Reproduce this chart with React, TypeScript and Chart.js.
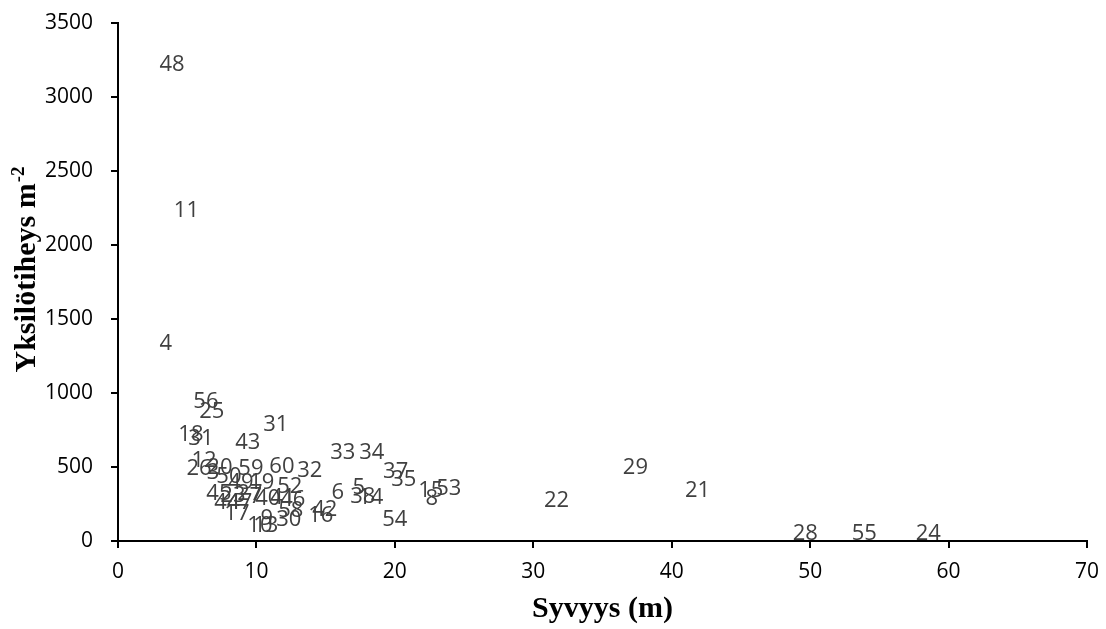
import { useEffect, useRef } from "react";
import { Chart, registerables } from "chart.js";

Chart.register(...registerables);

// Sampling sites: site number, depth (m) and individual density (ind. m^-2)
const siteIds = [
  "48", "11", "4", "56", "25", "18", "31", "43", "31", "33",
  "34", "37", "35", "29", "21", "22", "15", "8", "53", "54",
  "28", "55", "24", "6", "5", "38", "14", "16", "42", "12",
  "26", "3", "20", "59", "60", "32", "50", "49", "19", "52",
  "45", "23", "27", "7", "40", "41", "46", "44", "47", "17",
  "58", "9", "30", "10", "13",
];

const depthM = [
  3.9, 4.94, 3.46, 6.35, 6.78, 5.27, 5.99, 9.38, 11.4, 16.24,
  18.33, 20.06, 20.64, 37.38, 41.86, 31.68, 22.59, 22.66, 23.89, 19.99,
  49.65, 53.91, 58.53, 15.88, 17.39, 17.68, 18.26, 14.65, 14.94, 6.21,
  5.85, 6.86, 7.36, 9.6, 11.84, 13.86, 8.01, 8.88, 10.39, 12.41,
  7.29, 8.3, 9.53, 9.96, 10.82, 11.91, 12.63, 7.87, 8.8, 8.59,
  12.48, 10.75, 12.34, 10.25, 10.68,
];

const densityPerM2 = [
  3230, 2240, 1345, 953, 885, 730, 703, 676, 797, 608,
  608, 480, 426, 507, 351, 284, 351, 297, 365, 155,
  61, 61, 61, 338, 372, 311, 304, 182, 223, 554,
  500, 473, 507, 500, 514, 486, 446, 405, 405, 378,
  331, 318, 331, 311, 297, 304, 291, 270, 270, 196,
  216, 162, 155, 115, 115,
];

const xAxisTitle = "Syvyys (m)";
const yAxisTitleMain = "Yksilötiheys m";
const yAxisTitleSup = "-2";

const X_MIN = 0;
const X_MAX = 70;
const X_STEP = 10;
const Y_MIN = 0;
const Y_MAX = 3500;
const Y_STEP = 500;

const LABEL_FONT = '22px "Open Sans"';
const TICK_FONT_FAMILY = '"Open Sans"';
const TITLE_FAMILY = '"Liberation Serif"';

// Site numbers are drawn in place of point markers
const siteLabelPlugin = {
  id: "siteLabels",
  afterDatasetsDraw(chart: any) {
    const ctx = chart.ctx as CanvasRenderingContext2D;
    const meta = chart.getDatasetMeta(0);
    ctx.save();
    ctx.font = LABEL_FONT;
    ctx.fillStyle = "#404040";
    ctx.textAlign = "center";
    ctx.textBaseline = "alphabetic";
    meta.data.forEach((el: any, i: number) => {
      ctx.fillText(siteIds[i], el.x, el.y + 7.8);
    });
    ctx.restore();
  },
};

// Rotated y-axis title with a superscript exponent
const yTitlePlugin = {
  id: "yTitle",
  afterDraw(chart: any) {
    const ctx = chart.ctx as CanvasRenderingContext2D;
    const { top, bottom } = chart.chartArea;
    ctx.save();
    ctx.translate(35, (top + bottom) / 2 - 12);
    ctx.rotate(-Math.PI / 2);
    ctx.fillStyle = "#000";
    ctx.textBaseline = "alphabetic";
    ctx.textAlign = "left";
    ctx.font = `bold 30px ${TITLE_FAMILY}`;
    const w1 = ctx.measureText(yAxisTitleMain).width;
    ctx.font = `bold 19px ${TITLE_FAMILY}`;
    const w2 = ctx.measureText(yAxisTitleSup).width;
    const start = -(w1 + w2) / 2;
    ctx.font = `bold 30px ${TITLE_FAMILY}`;
    ctx.fillText(yAxisTitleMain, start, 0);
    ctx.font = `bold 19px ${TITLE_FAMILY}`;
    ctx.fillText(yAxisTitleSup, start + w1 + 1, -11);
    ctx.restore();
  },
};

const plainNumber = (value: string | number) => String(value);

export default function App() {
  const canvasRef = useRef<HTMLCanvasElement | null>(null);

  useEffect(() => {
    document.body.style.margin = "0";
    const canvas = canvasRef.current;
    if (!canvas) return;

    const points = depthM.map((d, i) => ({ x: d, y: densityPerM2[i] }));

    const chart = new Chart(canvas, {
      type: "scatter",
      data: {
        datasets: [
          {
            data: points,
            pointRadius: 0,
            pointHoverRadius: 0,
            showLine: false,
          },
        ],
      },
      options: {
        responsive: false,
        animation: false,
        devicePixelRatio: 1,
        layout: { padding: { top: 23, right: 19, bottom: 0, left: 0 } },
        plugins: {
          legend: { display: false },
          tooltip: { enabled: false },
        },
        scales: {
          x: {
            type: "linear",
            min: X_MIN,
            max: X_MAX,
            afterFit(scale: any) {
              scale.height = 88;
              scale.paddingLeft = 0;
              scale.paddingRight = 0;
            },
            ticks: {
              stepSize: X_STEP,
              color: "#000",
              padding: 11,
              font: { family: TICK_FONT_FAMILY, size: 21 },
              callback: plainNumber,
            },
            grid: {
              drawOnChartArea: false,
              drawTicks: true,
              tickLength: 7,
              color: "#000",
              lineWidth: 2,
            },
            border: { display: true, color: "#000", width: 2 },
            title: {
              display: true,
              text: xAxisTitle,
              color: "#000",
              font: { family: TITLE_FAMILY, size: 30, weight: "bold" },
              padding: { top: 0, bottom: 2 },
            },
          },
          y: {
            type: "linear",
            min: Y_MIN,
            max: Y_MAX,
            afterFit(scale: any) {
              scale.width = 118;
              scale.paddingTop = 0;
              scale.paddingBottom = 0;
            },
            ticks: {
              stepSize: Y_STEP,
              color: "#000",
              padding: 18,
              font: { family: TICK_FONT_FAMILY, size: 21 },
              callback: plainNumber,
            },
            grid: {
              drawOnChartArea: false,
              drawTicks: true,
              tickLength: 7,
              color: "#000",
              lineWidth: 2,
            },
            border: { display: true, color: "#000", width: 2 },
          },
        },
      },
      plugins: [siteLabelPlugin, yTitlePlugin],
    });

    return () => chart.destroy();
  }, []);

  return (
    <div style={{ width: 1106, height: 629, background: "#fff" }}>
      <canvas
        ref={canvasRef}
        width={1106}
        height={629}
        style={{ display: "block", width: 1106, height: 629 }}
      />
    </div>
  );
}
